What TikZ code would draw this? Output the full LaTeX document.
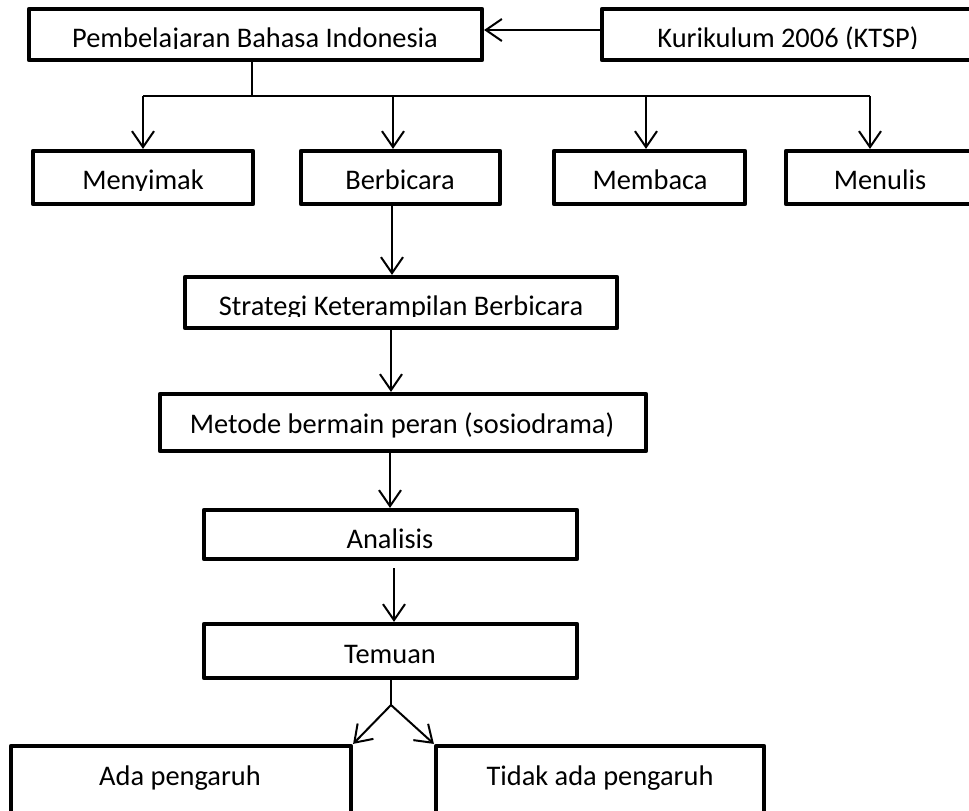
\documentclass[tikz,border=0pt]{standalone}
\usepackage{fontspec}
\setmainfont{Carlito}
\usetikzlibrary{fit,arrows.meta}
\begin{document}
\begin{tikzpicture}[x=0.5pt,y=-0.5pt,
  box/.style={draw, line width=2.1pt, inner sep=0pt, line join=round, rectangle},
  txt/.style={inner sep=0pt, anchor=base, font=\fontsize{14.2}{17}\selectfont},
  conn/.style={line width=1pt},
  arr/.style={conn, -{Straight Barb[length=8pt,width=11pt,line width=1pt]}}]
\useasboundingbox (0,0) rectangle (969,810);
\clip (0,0) rectangle (969,810);
% boxes
\node[box, fit={(29,9) (482,60)}] (pbi) {};
\node[box, fit={(602,9) (976,60)}] (ktsp) {};
\node[box, fit={(33,151) (253,204)}] (menyimak) {};
\node[box, fit={(301,151) (500,204)}] (berbicara) {};
\node[box, fit={(554,151) (745,204)}] (membaca) {};
\node[box, fit={(786,151) (976,204)}] (menulis) {};
\node[box, fit={(185,277) (617,328)}] (strategi) {};
\node[box, fit={(160,394) (646,451)}] (metode) {};
\node[box, fit={(204,510) (577,559)}] (analisis) {};
\node[box, fit={(204,624) (577,678)}] (temuan) {};
\node[box, fit={(11,746) (351,840)}] (ada) {};
\node[box, fit={(436,746) (764,840)}] (tidak) {};
% texts (some clipped at the baseline as in the reference)
\begin{scope}
  \clip (30,10) rectangle (480,48.5);
  \node[txt] (tpbi) at (255,47) {Pembelajaran Bahasa Indonesia};
\end{scope}
\begin{scope}
  \clip (604,10) rectangle (969,48.5);
  \node[txt] (tktsp) at (788,47) {Kurikulum 2006 (KTSP)};
\end{scope}
\begin{scope}
  \clip (35,153) rectangle (251,190.5);
  \node[txt] (tmenyimak) at (143,189) {Menyimak};
\end{scope}
\node[txt] (tberbicara) at (400,189) {Berbicara};
\node[txt] (tmembaca) at (650,189) {Membaca};
\node[txt] (tmenulis) at (880,189) {Menulis};
\begin{scope}
  \clip (187,279) rectangle (615,316.5);
  \node[txt] (tstrategi) at (401,315) {Strategi Keterampilan Berbicara};
\end{scope}
\node[txt] (tmetode) at (402,433) {Metode bermain peran (sosiodrama)};
\node[txt] (tanalisis) at (390,548) {Analisis};
\node[txt] (ttemuan) at (390,663) {Temuan};
\node[txt] (tada) at (180,785) {Ada pengaruh};
\node[txt] (ttidak) at (600,785) {Tidak ada pengaruh};
% connectors
\coordinate (kin) at (602,30);
\draw[arr] (kin) -- (pbi.east |- kin);
\coordinate (hub) at (252,96);
\coordinate (hl) at (143,96);
\coordinate (h2) at (393,96);
\coordinate (h3) at (646,96);
\coordinate (hr) at (870,96);
\draw[conn] (pbi.south -| hub) -- (hub);
\draw[conn] (hl) -- (hr);
\draw[arr] (hl) -- (hl |- menyimak.north);
\draw[arr] (h2) -- (h2 |- berbicara.north);
\draw[arr] (h3) -- (h3 |- membaca.north);
\draw[arr] (hr) -- (hr |- menulis.north);
\coordinate (c1) at (392,0);
\draw[arr] (berbicara.south -| c1) -- (strategi.north -| c1);
\coordinate (c2) at (391,0);
\draw[arr] (strategi.south -| c2) -- (metode.north -| c2);
\coordinate (c3) at (390,0);
\draw[arr] (metode.south -| c3) -- (analisis.north -| c3);
\coordinate (c4) at (394,568);
\draw[arr] (c4) -- (temuan.north -| c4);
\coordinate (split) at (391,705);
\draw[conn] (temuan.south -| split) -- (split);
\draw[arr] (split) -- (ada.north east);
\draw[arr] (split) -- (tidak.north west);
\end{tikzpicture}
\end{document}
